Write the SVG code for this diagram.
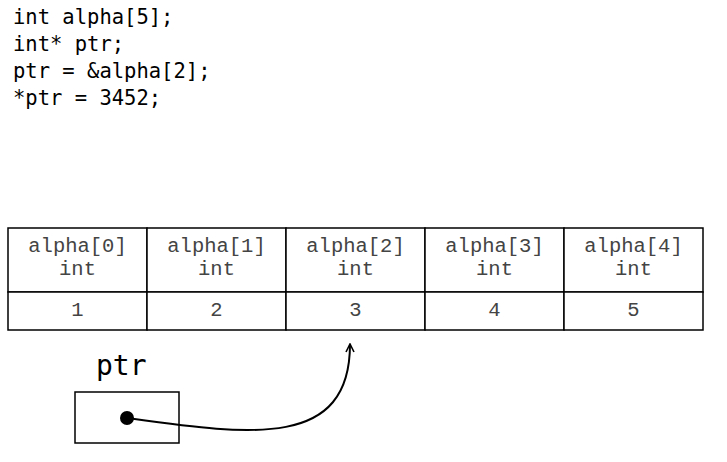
<svg xmlns="http://www.w3.org/2000/svg" width="727" height="462" viewBox="0 0 727 462">
<style>
.code{font-family:"DejaVu Sans Mono","Liberation Mono",monospace;font-size:20.5px;fill:#000}
.cell{font-family:"Liberation Mono","Courier New",monospace;font-size:20.5px;fill:#444;text-anchor:middle}
.box{fill:#fff;stroke:#000;stroke-width:1.5}
</style>
<defs>
<marker id="arr" viewBox="0 0 10 10" refX="9" refY="5" markerWidth="10" markerHeight="10" markerUnits="userSpaceOnUse" orient="auto">
<path d="M1,1 L9,5 L1,9" fill="none" stroke="#000" stroke-width="1.6"/>
</marker>
</defs>
<rect width="727" height="462" fill="#fff"/>
<g id="code">
<text class="code" x="13" y="24">int alpha[5];</text>
<text class="code" x="13" y="51">int* ptr;</text>
<text class="code" x="13" y="78">ptr = &amp;alpha[2];</text>
<text class="code" x="13" y="105">*ptr = 3452;</text>
</g>
<g id="alpha0">
<rect class="box" x="8" y="228" width="139" height="64"/>
<rect class="box" x="8" y="292" width="139" height="38"/>
<text class="cell" x="77.5" y="252">alpha[0]</text>
<text class="cell" x="77.5" y="275">int</text>
<text class="cell" x="77.5" y="316">1</text>
</g>
<g id="alpha1">
<rect class="box" x="147" y="228" width="139" height="64"/>
<rect class="box" x="147" y="292" width="139" height="38"/>
<text class="cell" x="216.5" y="252">alpha[1]</text>
<text class="cell" x="216.5" y="275">int</text>
<text class="cell" x="216.5" y="316">2</text>
</g>
<g id="alpha2">
<rect class="box" x="286" y="228" width="139" height="64"/>
<rect class="box" x="286" y="292" width="139" height="38"/>
<text class="cell" x="355.5" y="252">alpha[2]</text>
<text class="cell" x="355.5" y="275">int</text>
<text class="cell" x="355.5" y="316">3</text>
</g>
<g id="alpha3">
<rect class="box" x="425" y="228" width="139" height="64"/>
<rect class="box" x="425" y="292" width="139" height="38"/>
<text class="cell" x="494.5" y="252">alpha[3]</text>
<text class="cell" x="494.5" y="275">int</text>
<text class="cell" x="494.5" y="316">4</text>
</g>
<g id="alpha4">
<rect class="box" x="564" y="228" width="139" height="64"/>
<rect class="box" x="564" y="292" width="139" height="38"/>
<text class="cell" x="633.5" y="252">alpha[4]</text>
<text class="cell" x="633.5" y="275">int</text>
<text class="cell" x="633.5" y="316">5</text>
</g>
<g id="ptr">
<text x="96" y="375" style="font-family:'DejaVu Sans Mono','Liberation Mono',monospace;font-size:28px;fill:#000">ptr</text>
<rect class="box" x="75" y="392" width="104" height="51"/>
<circle cx="127" cy="418" r="7" fill="#000"/>
</g>
<g id="connectors">
<path d="M127,418 C250,435 350,450 350,344" fill="none" stroke="#000" stroke-width="2" marker-end="url(#arr)"/>
</g>
</svg>
